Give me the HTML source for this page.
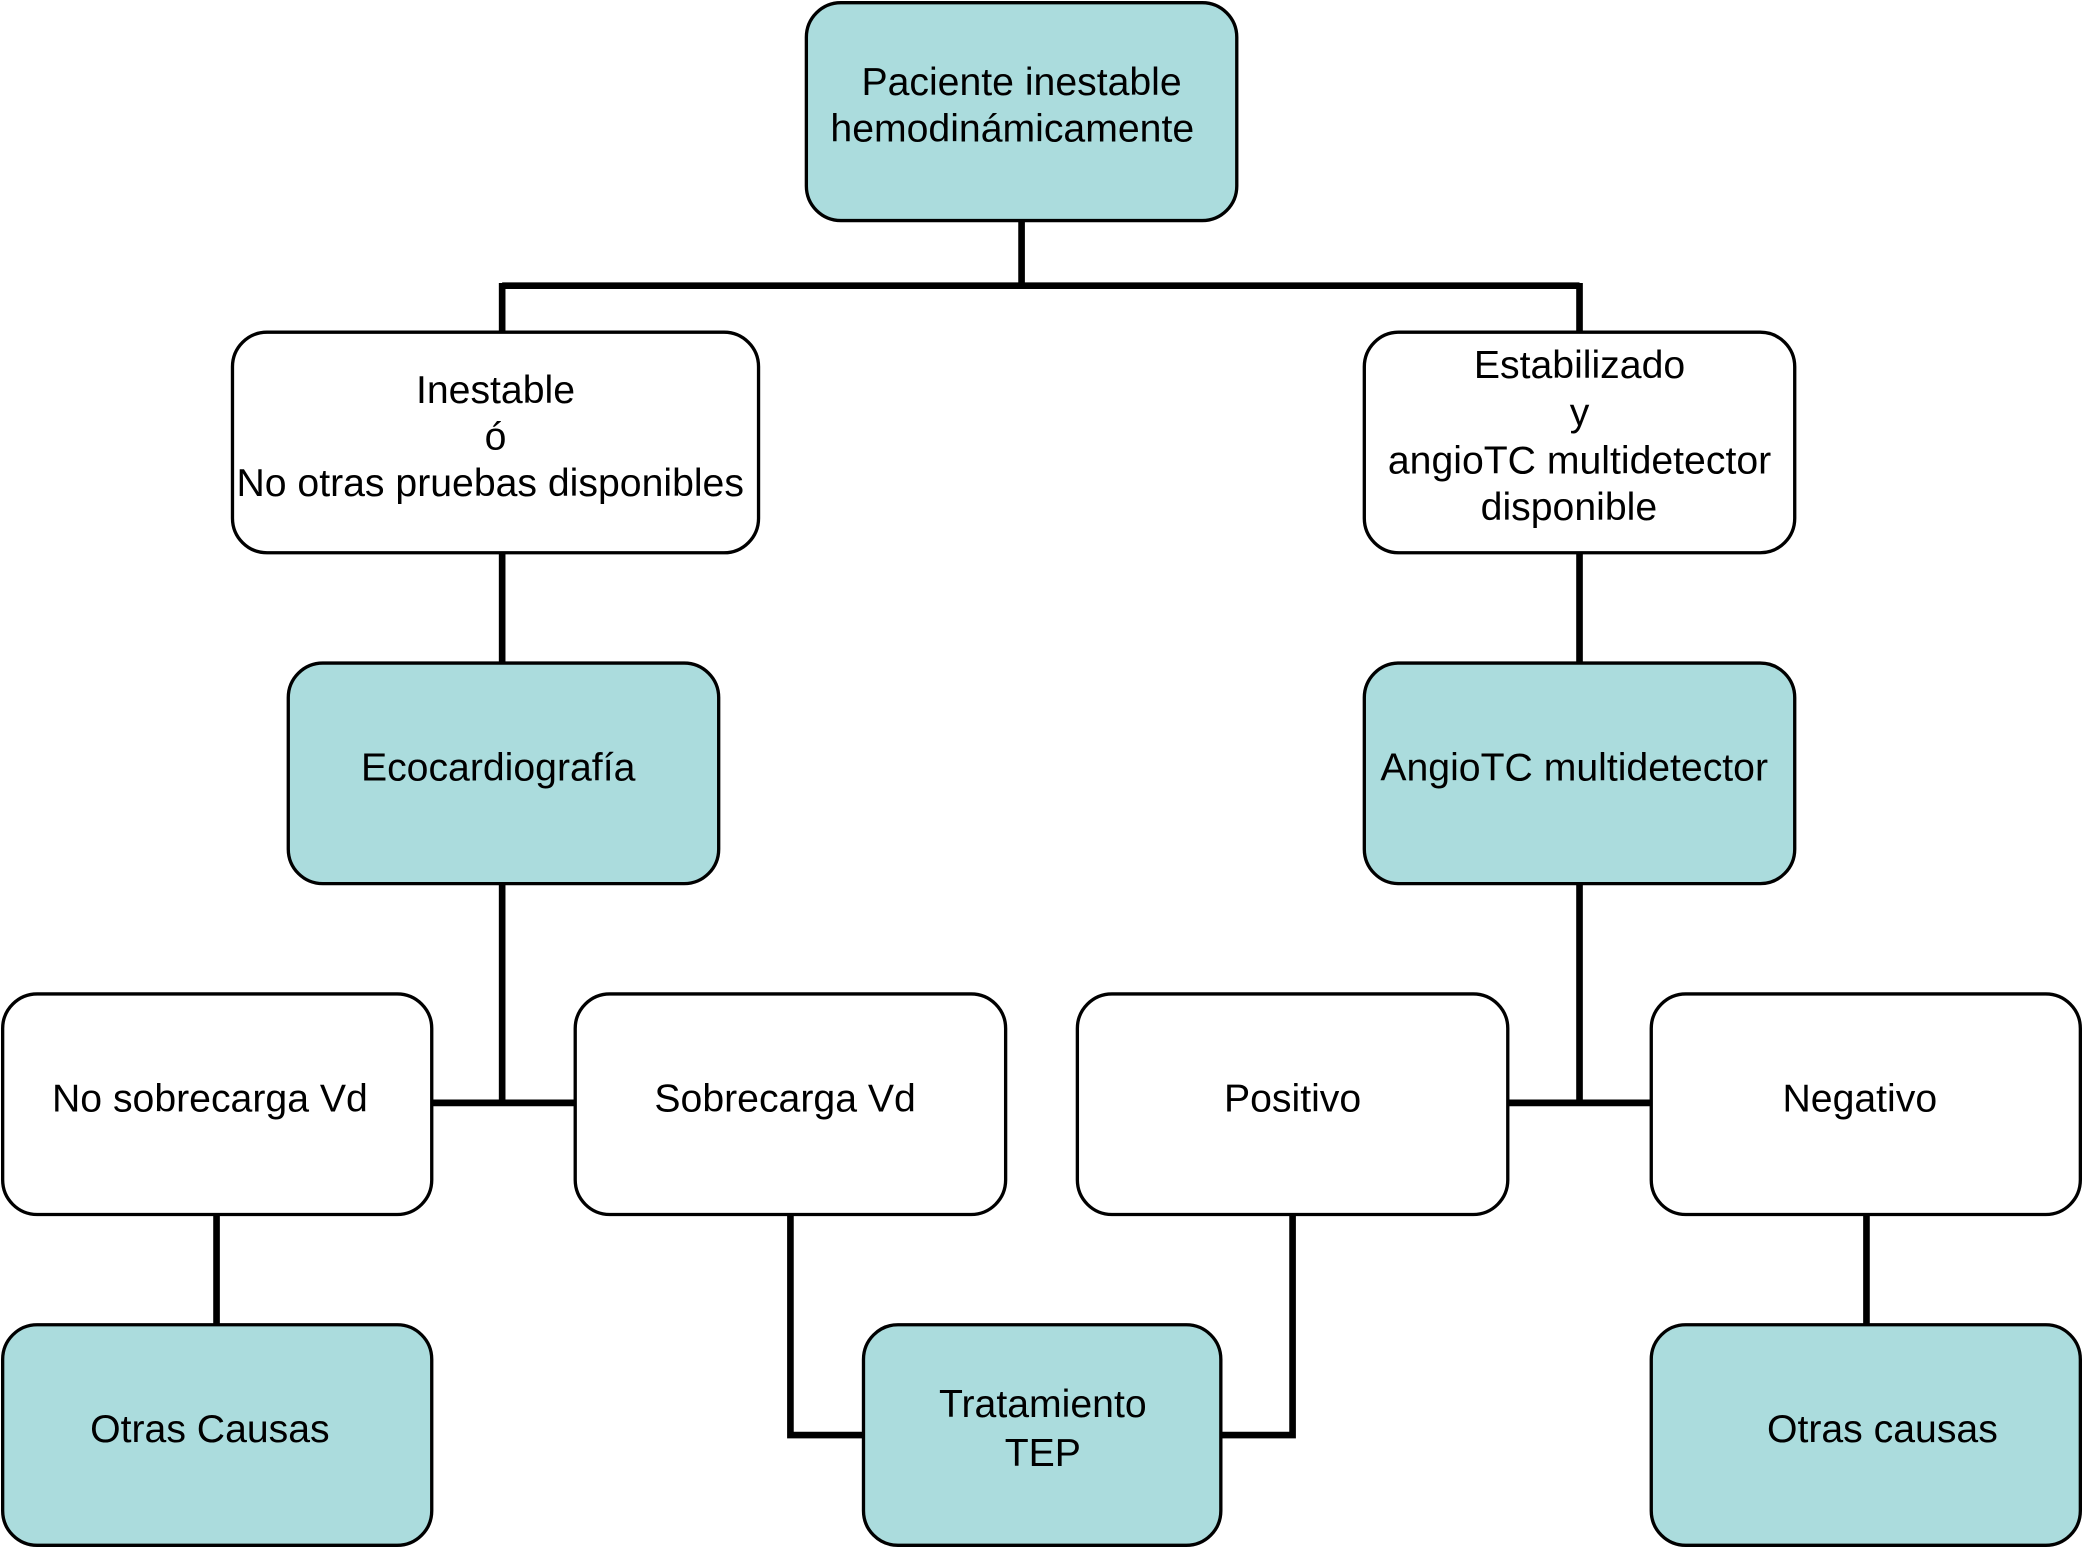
<!DOCTYPE html>
<html><head><meta charset="utf-8"><style>
html,body{margin:0;padding:0;background:#fff;}
svg{display:block;}
text{font-family:"Liberation Sans",Arial,sans-serif;font-size:29.5px;fill:#000;text-anchor:middle;dominant-baseline:central;}
</style></head><body>
<svg width="2083" height="1548" viewBox="0 0 1568 1165" preserveAspectRatio="none" xmlns="http://www.w3.org/2000/svg">
<g stroke="#000" stroke-width="5" fill="none">
<path d="M769 166V215M378 215H1189M378 213V250M1189 213V250"/>
<path d="M378 416V499M1189 416V499"/>
<path d="M378 665V830M325 830H433M1189 665V830M1135 830H1243"/>
<path d="M163 914V997M1405 914V997"/>
<path d="M595 914V1080H650M973 914V1080H919"/>
</g>
<g stroke="#000" stroke-width="2.5">
<rect x="607" y="2" width="324" height="164" rx="26" fill="#abdcdd"/>
<rect x="175" y="250" width="396" height="166" rx="26" fill="#fff"/>
<rect x="1027" y="250" width="324" height="166" rx="26" fill="#fff"/>
<rect x="217" y="499" width="324" height="166" rx="26" fill="#abdcdd"/>
<rect x="1027" y="499" width="324" height="166" rx="26" fill="#abdcdd"/>
<rect x="2" y="748" width="323" height="166" rx="26" fill="#fff"/>
<rect x="433" y="748" width="324" height="166" rx="26" fill="#fff"/>
<rect x="811" y="748" width="324" height="166" rx="26" fill="#fff"/>
<rect x="1243" y="748" width="323" height="166" rx="26" fill="#fff"/>
<rect x="2" y="997" width="323" height="166" rx="26" fill="#abdcdd"/>
<rect x="650" y="997" width="269" height="166" rx="26" fill="#abdcdd"/>
<rect x="1243" y="997" width="323" height="166" rx="26" fill="#abdcdd"/>
</g>
<text x="769" y="62">Paciente inestable</text>
<text x="762" y="97">hemodinámicamente</text>
<text x="373" y="294">Inestable</text>
<text x="373" y="329">ó</text>
<text x="369" y="364">No otras pruebas disponibles</text>
<text x="1189" y="275">Estabilizado</text>
<text x="1189" y="311">y</text>
<text x="1189" y="347">angioTC multidetector</text>
<text x="1181" y="382">disponible</text>
<text x="375" y="578">Ecocardiografía</text>
<text x="1185" y="578">AngioTC multidetector</text>
<text x="158" y="827">No sobrecarga Vd</text>
<text x="591" y="827">Sobrecarga Vd</text>
<text x="973" y="827">Positivo</text>
<text x="1400" y="827">Negativo</text>
<text x="158" y="1076">Otras Causas</text>
<text x="785" y="1057">Tratamiento</text>
<text x="785" y="1094">TEP</text>
<text x="1417" y="1076">Otras causas</text>
</svg>
</body></html>
